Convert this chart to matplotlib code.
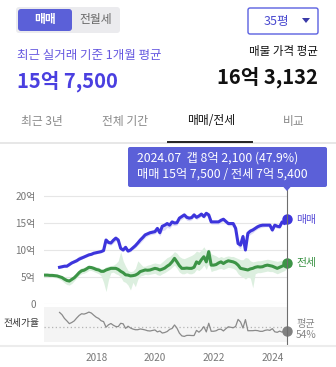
import numpy as np
import matplotlib
matplotlib.use("Agg")
import matplotlib.pyplot as plt
from matplotlib.patches import FancyBboxPatch, Polygon

plt.rcParams['font.family'] = ['Noto Sans CJK KR', 'DejaVu Sans']

# monthly averages in 억 원
sale_start = (2016, 10)
sale = [6.8, 6.9, 7.0,
        7.0, 7.3, 7.6, 7.8, 8.0, 8.3, 8.5, 8.7, 8.9, 9.1, 9.2, 9.4,
        9.5, 9.6, 9.7, 9.9, 11.85, 11.4, 11.3, 11.8, 12.2, 11.85, 10.3, 10.0,
        10.5, 9.8, 10.0, 10.4, 10.8, 11.3, 11.85, 12.3, 12.8, 13.0, 13.2, 13.3,
        13.4, 14.0, 13.2, 14.4, 14.6, 14.9, 14.6, 15.2, 15.0, 15.05, 15.9, 16.2,
        16.5, 16.05, 15.9, 16.0, 16.5, 16.05, 16.3, 16.65, 16.2, 16.8, 16.5, 15.2,
        15.2, 15.2, 15.2, 15.5, 15.7, 15.3, 14.9, 14.9, 14.9, 14.0, 11.2, 10.9,
        12.5, 10.0, 13.1, 13.5, 13.7, 14.0, 14.3, 14.5, 14.6, 14.6, 14.6, 14.6,
        13.7, 14.6, 14.4, 14.3, 15.2, 14.9, 15.75]
sale_hi = [7.0, 7.2, 7.4,
           7.3, 7.7, 8.0, 8.3, 8.5, 8.9, 9.0, 9.0, 9.2, 9.4, 9.5, 9.7,
           9.8, 9.9, 10.0, 10.3, 12.2, 11.8, 11.7, 12.3, 12.6, 12.2, 10.7, 10.3,
           10.8, 10.1, 10.3, 10.7, 11.2, 11.8, 12.4, 12.8, 13.2, 13.4, 13.6, 13.7,
           13.8, 14.4, 13.7, 14.8, 15.0, 15.2, 15.0, 15.6, 15.4, 15.5, 16.3, 16.6,
           16.9, 16.5, 16.3, 16.4, 16.9, 16.5, 16.7, 17.0, 16.6, 17.1, 16.9, 15.6,
           15.5, 15.5, 15.5, 15.8, 16.0, 15.6, 15.2, 15.2, 15.2, 14.5, 12.0, 11.6,
           13.1, 11.0, 13.6, 14.0, 14.2, 14.5, 14.8, 14.9, 14.9, 14.9, 14.9, 14.9,
           14.1, 14.9, 14.7, 14.6, 15.5, 15.2, 15.9]
sale_lo = [6.6, 6.7, 6.8,
           6.8, 7.1, 7.4, 7.6, 7.8, 8.1, 8.3, 8.5, 8.7, 8.9, 9.0, 9.2,
           9.3, 9.4, 9.5, 9.7, 11.3, 11.0, 10.9, 11.3, 11.7, 11.3, 9.9, 9.7,
           10.1, 9.5, 9.7, 10.1, 10.4, 10.9, 11.3, 11.8, 12.3, 12.6, 12.8, 12.9,
           13.0, 13.4, 12.6, 13.6, 13.7, 14.2, 14.0, 14.6, 14.5, 14.6, 15.4, 15.7,
           16.0, 15.5, 15.4, 15.6, 16.1, 15.6, 15.9, 16.3, 15.8, 16.4, 16.0, 14.8,
           14.8, 14.8, 14.8, 15.1, 15.3, 14.9, 14.5, 14.5, 14.4, 13.3, 10.6, 10.2,
           11.8, 9.6, 12.5, 12.9, 13.2, 13.6, 13.9, 14.1, 14.2, 14.3, 14.3, 14.3,
           13.3, 14.2, 14.0, 14.0, 14.8, 14.6, 15.6]

lease_start = (2016, 4)
lease = [5.35, 5.35, 5.3, 5.3, 5.25, 5.2, 5.05, 4.9, 4.6,
         4.35, 4.25, 4.55, 4.85, 5.3, 5.8, 6.15, 6.25, 6.5, 6.8, 6.75, 6.6,
         6.4, 6.3, 6.05, 6.05, 6.3, 6.45, 6.6, 6.6, 6.6, 6.4, 6.05, 5.8,
         5.4, 5.35, 5.2, 5.25, 5.35, 5.6, 6.0, 6.15, 6.3, 6.25, 6.3, 6.45,
         6.6, 6.5, 6.3, 6.45, 6.65, 7.0, 7.3, 7.8, 8.45, 7.8, 7.1, 6.6,
         6.6, 6.65, 6.6, 6.6, 6.8, 7.8, 7.5, 8.2, 8.75, 7.8, 9.7, 7.2,
         7.2, 7.3, 7.6, 7.8, 7.5, 7.8, 8.0, 7.9, 7.8, 7.6, 7.2, 6.6,
         6.5, 6.4, 6.3, 6.5, 6.6, 6.8, 6.9, 6.85, 6.9, 7.1, 7.2, 7.1,
         7.0, 6.8, 6.6, 6.8, 7.0, 7.2, 7.54]
lease_hi = [5.6, 5.6, 5.5, 5.5, 5.5, 5.4, 5.3, 5.2, 5.0,
            4.8, 4.7, 5.0, 5.3, 5.8, 6.4, 6.7, 6.8, 7.0, 7.2, 7.1, 7.0,
            6.9, 6.8, 6.5, 6.5, 6.9, 7.0, 7.1, 7.2, 7.5, 8.0, 9.7, 8.0,
            7.0, 6.2, 6.0, 6.1, 6.6, 8.0, 7.5, 7.0, 7.0, 7.2, 7.3, 7.5,
            7.6, 7.5, 7.4, 7.8, 8.2, 8.6, 8.8, 9.2, 9.7, 9.4, 8.8, 8.5,
            8.4, 8.6, 8.8, 9.0, 9.3, 9.8, 9.6, 10.0, 10.6, 9.8, 10.2, 9.3,
            9.1, 8.9, 8.6, 8.8, 8.6, 8.8, 8.9, 8.8, 8.8, 8.6, 8.4, 8.2,
            8.2, 8.6, 8.5, 8.0, 7.8, 7.9, 8.0, 8.0, 8.1, 8.2, 8.3, 8.2,
            8.1, 8.0, 7.9, 8.0, 8.1, 8.2, 8.3]
lease_lo = [5.1, 5.1, 5.05, 5.0, 4.9, 4.8, 4.6, 4.3, 3.9,
            3.6, 3.5, 3.8, 4.3, 4.8, 5.3, 5.6, 5.7, 5.9, 6.2, 6.2, 6.0,
            5.8, 5.6, 5.2, 4.0, 2.3, 4.5, 5.8, 5.9, 5.6, 5.4, 5.0, 4.2,
            4.0, 3.5, 2.6, 4.0, 3.2, 4.6, 5.2, 5.3, 5.5, 5.4, 5.5, 5.6,
            5.7, 5.4, 5.3, 5.6, 5.8, 6.1, 6.4, 6.8, 7.2, 6.6, 5.9, 5.6,
            5.6, 5.8, 5.6, 5.6, 5.8, 6.4, 6.2, 6.6, 7.2, 6.4, 7.5, 6.0,
            6.2, 6.3, 6.5, 6.6, 6.4, 6.6, 6.8, 6.7, 6.6, 6.3, 5.6, 5.2,
            5.0, 4.6, 5.0, 4.8, 3.0, 5.6, 5.8, 5.8, 5.9, 6.0, 6.1, 6.0,
            6.0, 5.8, 5.6, 5.8, 6.0, 6.2, 6.6]

listing_avg = 16.3132
ratio_avg = 54
year_ticks = [2018, 2020, 2022, 2024]
value_ticks = [0, 5, 10, 15, 20]
tabs = ['최근 3년', '전체 기간', '매매/전세', '비교']

BLUE = '#3d35dc'
GREEN = '#3c9446'
W, H = 336, 367
PL, PR = 44, 287          # plot area left/right in px


def months(start, n):
    y, m = start
    return y + (m - 1 + np.arange(n)) / 12


def won(v):
    eok, man = divmod(int(round(v * 10000)), 10000)
    return f'{eok}억 {man:,}' if man else f'{eok}억'


def box(l, t, r, b):
    return [l / W, 1 - b / H, (r - l) / W, (b - t) / H]


sx = months(sale_start, len(sale))
lx = months(lease_start, len(lease))
sale_a = np.array(sale)
offset = len(lease) - len(sale)
ratio = np.array(lease[offset:]) / sale_a * 100

fig = plt.figure(figsize=(W / 100, H / 100), dpi=100)

# price chart
ymax = 20.3
ax = fig.add_axes(box(PL, 304 - ymax * 5.4, PR, 304))
ax.set_xlim(2016.22, 2024.5)
ax.set_ylim(0, ymax)
ax.fill_between(lx, lease_lo, lease_hi, color='#dcefdf', lw=0, zorder=1)
ax.fill_between(sx, sale_lo, sale_hi, color='#dddcf7', lw=0, zorder=1)
ax.plot(lx, lease, color=GREEN, lw=2.2, solid_joinstyle='round', zorder=3)
ax.plot(sx, sale, color=BLUE, lw=2.2, solid_joinstyle='round', zorder=3)
ax.plot(sx[-1], sale[-1], 'o', ms=6.5, color=BLUE, clip_on=False, zorder=5)
ax.plot(lx[-1], lease[-1], 'o', ms=6.5, color=GREEN, clip_on=False, zorder=5)
ax.set_yticks(value_ticks)
ax.set_yticklabels(['0' if v == 0 else f'{v}억' for v in value_ticks])
ax.set_xticks([])
ax.grid(axis='y', color='#e6e6e6', lw=0.8)
ax.set_axisbelow(True)
ax.tick_params(axis='y', length=0, pad=6, labelsize=7.2, labelcolor='#777777')
for s in ax.spines.values():
    s.set_visible(False)

# jeonse ratio strip
ax2 = fig.add_axes(box(PL, 307, PR, 342))
ax2.set_facecolor('#f4f4f4')
ax2.set_xlim(2016.22, 2024.5)
ax2.set_ylim(32, 82)
ax2.axhline(ratio_avg, color='#b4b4b4', ls=(0, (1, 2)), lw=0.9)
ax2.plot(sx, ratio, color='#8a8a8a', lw=0.9)
ax2.plot(sx[-1], ratio[-1], 'o', ms=6.5, color='#808080', clip_on=False, zorder=5)
ax2.set_yticks([])
ax2.set_xticks(year_ticks)
ax2.set_xticklabels([str(y) for y in year_ticks])
ax2.tick_params(axis='x', length=0, pad=8, labelsize=7.2, labelcolor='#777777')
for s in ax2.spines.values():
    s.set_visible(False)

# page chrome drawn in pixel space
ov = fig.add_axes([0, 0, 1, 1])
ov.set_xlim(0, W)
ov.set_ylim(H, 0)
ov.set_facecolor('none')
ov.axis('off')

ov.add_patch(FancyBboxPatch((16, 7), 104, 26, boxstyle='round,pad=0,rounding_size=3',
                            fc='#ebebee', ec='none'))
ov.add_patch(FancyBboxPatch((18, 9), 54, 22, boxstyle='round,pad=0,rounding_size=3',
                            fc='#5b60d8', ec='none'))
ov.text(45, 20, '매매', color='white', fontsize=8.5, fontweight='bold', ha='center', va='center')
ov.text(96, 20, '전월세', color='#666666', fontsize=8.5, ha='center', va='center')

ov.add_patch(FancyBboxPatch((248, 8), 70, 26, boxstyle='round,pad=0,rounding_size=2',
                            fc='white', ec='#5b60e0', lw=1))
ov.text(276, 21, '35평', color='#4a4ad0', fontsize=9, ha='center', va='center')
ov.add_patch(Polygon([(302, 18), (310, 18), (306, 23)], closed=True, fc='#3a3aa8', ec='none'))

ov.text(17, 55, '최근 실거래 기준 1개월 평균', color='#6658e0', fontsize=9, ha='left', va='center')
ov.text(17, 81, won(sale[-1]), color='#4a3fe0', fontsize=14.5, fontweight='bold',
        ha='left', va='center')
ov.text(318, 52, '매물 가격 평균', color='#111111', fontsize=8.3, ha='right', va='center')
ov.text(318, 77, won(listing_avg), color='#111111', fontsize=14.5, fontweight='bold',
        ha='right', va='center')

tab_x = [41.5, 125, 211, 294]
for i, (t, x) in enumerate(zip(tabs, tab_x)):
    ov.text(x, 121, t, color='#111111' if i == 2 else '#888888', fontsize=8.5,
            ha='center', va='center')
ov.plot([0, W], [142.5, 142.5], color='#e3e3e3', lw=1.2)
ov.plot([168, 252], [141.5, 141.5], color='#222222', lw=1.4)

# cursor line and tooltip for the latest month
ov.plot([PR, PR], [188, 345], color='#6e6e6e', lw=0.8, zorder=1)
ov.add_patch(FancyBboxPatch((128, 147), 199, 40, boxstyle='round,pad=0,rounding_size=2',
                            fc='#5b60d8', ec='none'))
ov.add_patch(Polygon([(283, 186.5), (291, 186.5), (287, 191)], closed=True,
                     fc='#5b60d8', ec='none'))
gap = sale[-1] - lease[-1]
y, m = sale_start
last_m = m - 1 + len(sale) - 1
ov.text(137, 158, f'{y + last_m // 12}.{last_m % 12 + 1:02d}  갭 {won(gap)} ({ratio[-1]:.1f}%)',
        color='white', fontsize=8.8, ha='left', va='center')
ov.text(137, 174.5, f'매매 {won(sale[-1])} / 전세 {won(lease[-1])}',
        color='white', fontsize=8.8, ha='left', va='center')

ov.text(296, 220, '매매', color='#5a4fd8', fontsize=7.8, ha='left', va='center')
ov.text(296, 263, '전세', color=GREEN, fontsize=7.8, ha='left', va='center')
ov.text(4, 323, '전세가율', color='#333333', fontsize=7, ha='left', va='center')
ov.text(296, 323.5, '평균', color='#888888', fontsize=7.3, ha='left', va='center')
ov.text(296, 334.5, f'{ratio_avg}%', color='#888888', fontsize=7.3, ha='left', va='center')

ov.plot([0, W], [345.5, 345.5], color='#ececec', lw=1.5)

fig.savefig('out.png', dpi=100)
